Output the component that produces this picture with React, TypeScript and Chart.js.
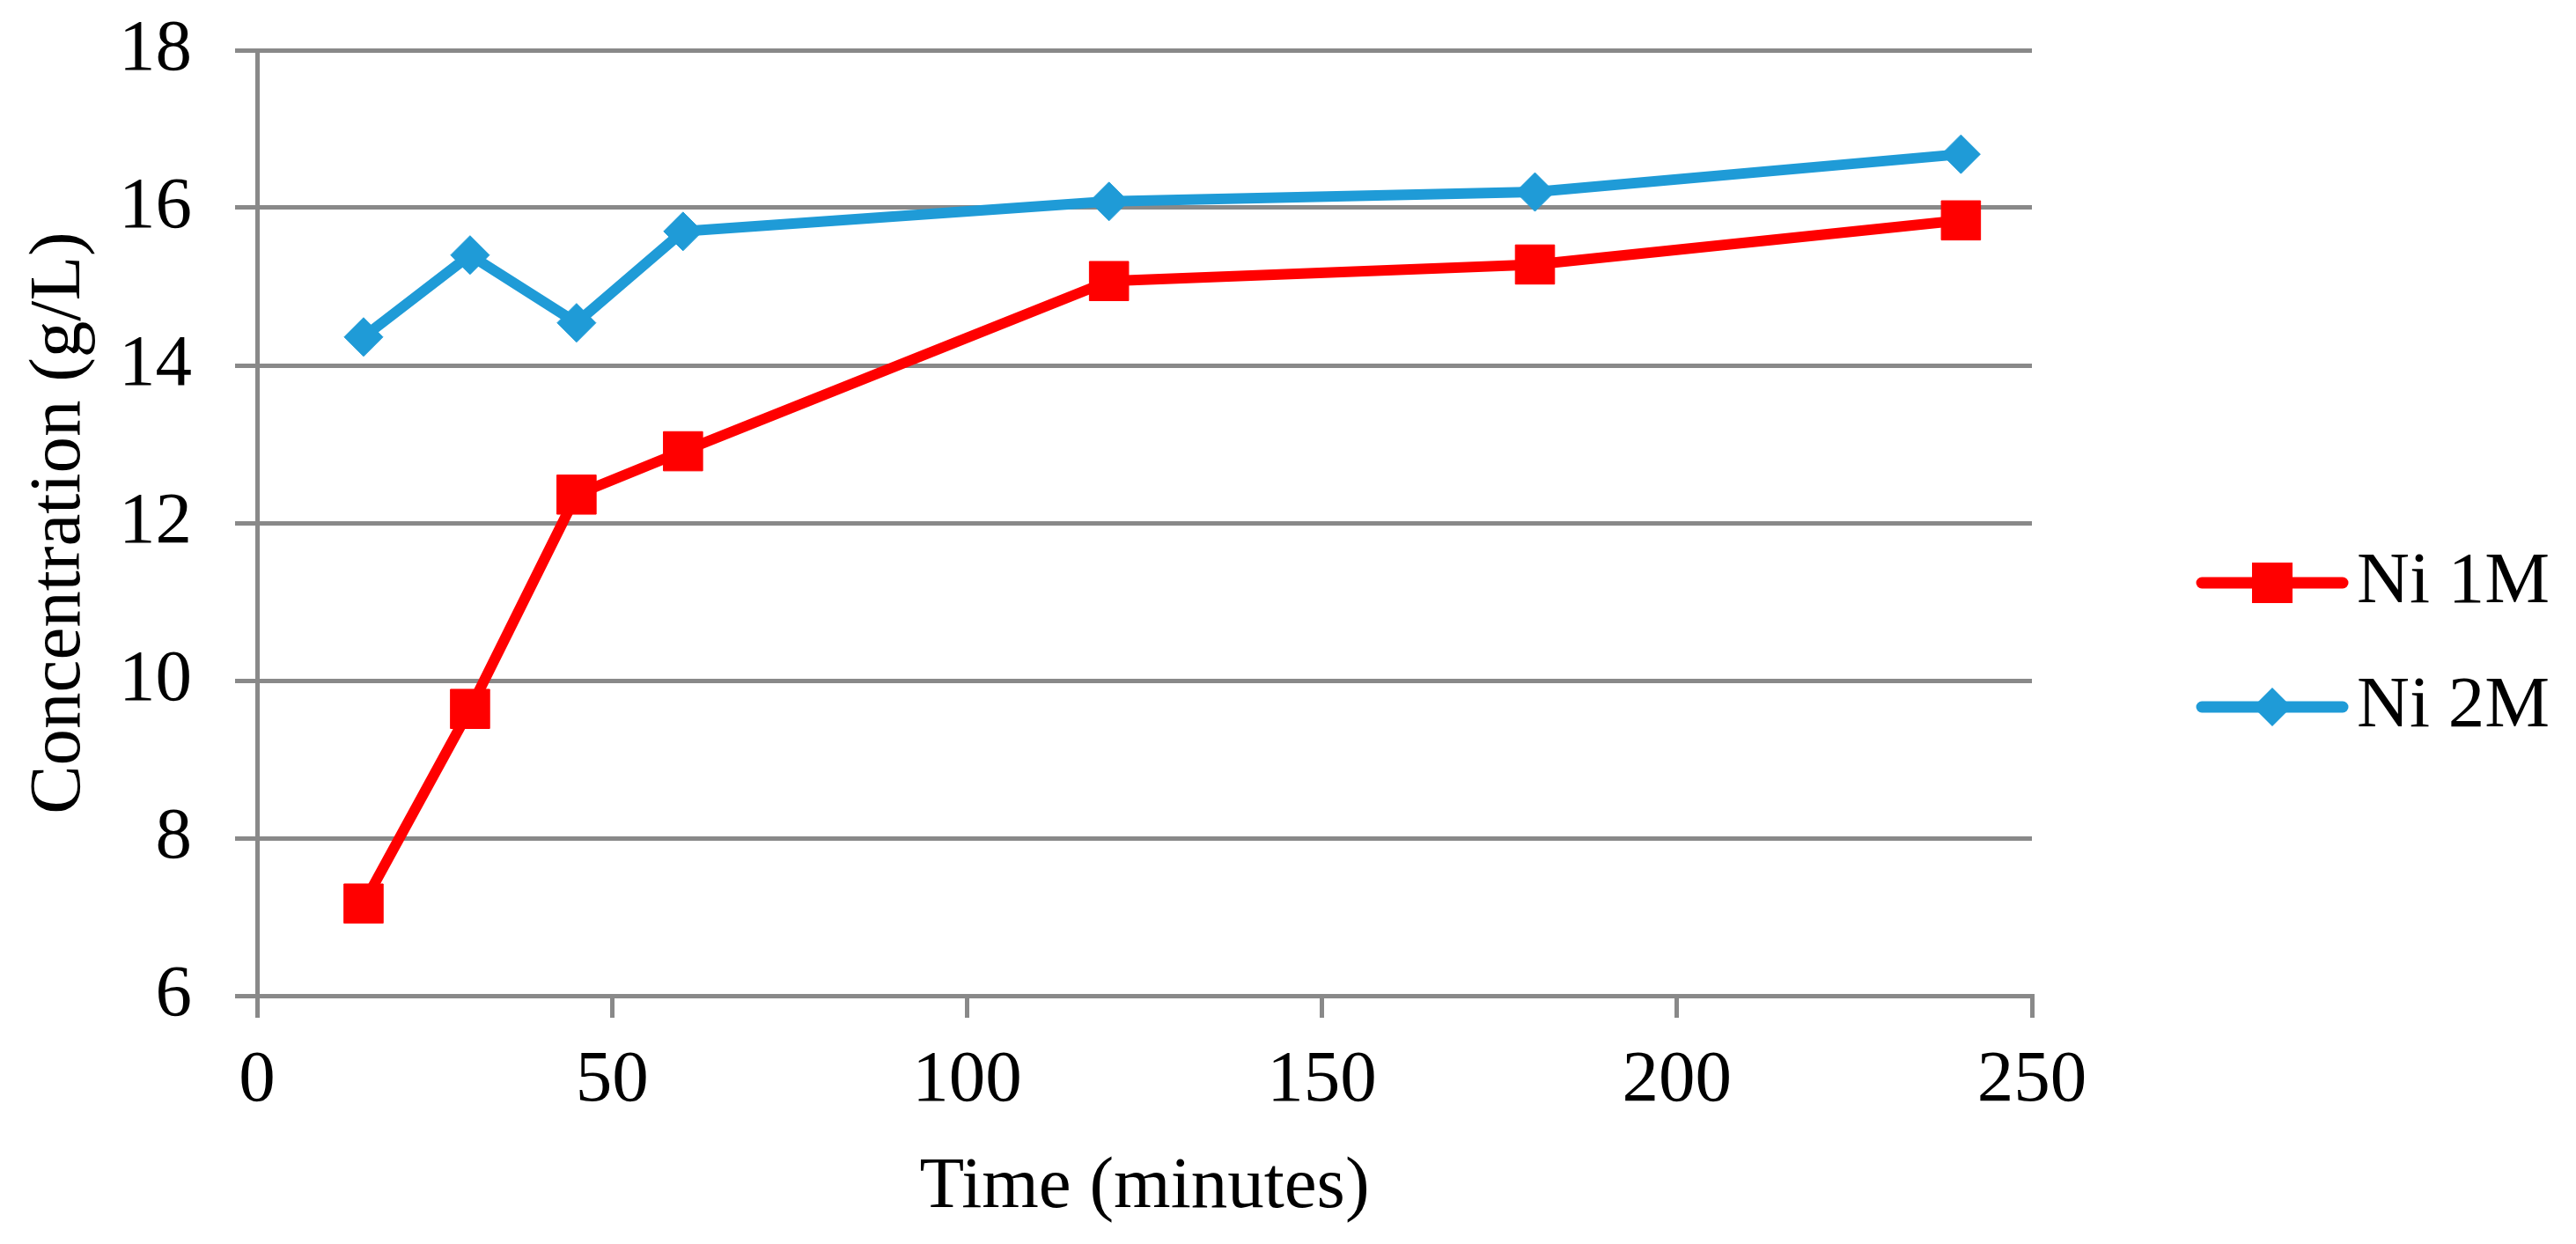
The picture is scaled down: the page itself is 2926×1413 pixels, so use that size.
import React, { useEffect, useRef } from 'react';
import { Chart, registerables } from 'chart.js';

Chart.register(...registerables);

// ---- data ----
const timeMinutes = [15, 30, 45, 60, 120, 180, 240];
const ni1M = [7.17, 9.64, 12.36, 12.91, 15.07, 15.28, 15.84];
const ni2M = [14.36, 15.4, 14.54, 15.7, 16.08, 16.2, 16.68];
const seriesLabels = ['Ni 1M', 'Ni 2M'];
const xAxisTitle = 'Time (minutes)';
const yAxisTitle = 'Concentration (g/L)';
const xRange = [0, 250];
const xStep = 50;
const yRange = [6, 18];
const yStep = 2;

// ---- styling / layout ----
const W = 2926;
const H = 1413;
const FONT = '"Liberation Serif", "Times New Roman", serif';
const FONT_SIZE = 83;
const GRID = '#898989';
const RED = '#FF0000';
const BLUE = '#1F9BD7';

const legendPlugin = {
  id: 'excelLegend',
  afterDraw(chart: any) {
    const ctx = chart.ctx as CanvasRenderingContext2D;
    const area = chart.chartArea;
    const lineStart = area.right + 193;
    const lineLen = 160;
    const rowTop = 662;
    const rowGap = 141;
    chart.data.datasets.forEach((ds: any, i: number) => {
      const y = rowTop + i * rowGap;
      ctx.save();
      ctx.strokeStyle = ds.borderColor;
      ctx.lineWidth = 13;
      ctx.lineCap = 'round';
      ctx.beginPath();
      ctx.moveTo(lineStart, y);
      ctx.lineTo(lineStart + lineLen, y);
      ctx.stroke();
      const cx = lineStart + lineLen / 2;
      ctx.fillStyle = ds.pointBackgroundColor;
      ctx.beginPath();
      if (ds.pointStyle === 'rect') {
        const s = 23;
        ctx.rect(cx - s, y - s, 2 * s, 2 * s);
      } else {
        const r = 22;
        ctx.moveTo(cx - r, y);
        ctx.lineTo(cx, y - r);
        ctx.lineTo(cx + r, y);
        ctx.lineTo(cx, y + r);
        ctx.closePath();
      }
      ctx.fill();
      ctx.fillStyle = '#000';
      ctx.font = `${FONT_SIZE}px ${FONT}`;
      ctx.textAlign = 'left';
      ctx.textBaseline = 'middle';
      ctx.fillText(ds.label, lineStart + lineLen + 16, y);
      ctx.restore();
    });
  },
};

export default function App() {
  const ref = useRef<HTMLCanvasElement>(null);

  useEffect(() => {
    const canvas = ref.current;
    if (!canvas) return;
    const chart = new Chart(canvas, {
      type: 'line',
      data: {
        datasets: [
          {
            label: seriesLabels[0],
            data: timeMinutes.map((t, i) => ({ x: t, y: ni1M[i] })),
            borderColor: RED,
            backgroundColor: RED,
            borderWidth: 12,
            pointStyle: 'rect',
            pointRadius: 31.5,
            pointBorderWidth: 1,
            pointBackgroundColor: RED,
            pointBorderColor: RED,
          },
          {
            label: seriesLabels[1],
            data: timeMinutes.map((t, i) => ({ x: t, y: ni2M[i] })),
            borderColor: BLUE,
            backgroundColor: BLUE,
            borderWidth: 12,
            pointStyle: 'rectRot',
            pointRadius: 22,
            pointBorderWidth: 1,
            pointBackgroundColor: BLUE,
            pointBorderColor: BLUE,
          },
        ],
      } as any,
      options: {
        responsive: false,
        animation: false,
        devicePixelRatio: 1,
        events: [],
        layout: { padding: { left: 0, top: 57, right: 618, bottom: 0 } },
        elements: {
          line: { tension: 0, borderCapStyle: 'round', borderJoinStyle: 'round' },
        },
        plugins: {
          legend: { display: false },
          tooltip: { enabled: false },
        },
        scales: {
          x: {
            type: 'linear',
            min: xRange[0],
            max: xRange[1],
            grid: {
              display: true,
              drawOnChartArea: false,
              drawTicks: true,
              tickLength: 25,
              color: GRID,
              lineWidth: 5,
            },
            border: { display: true, color: GRID, width: 5 },
            ticks: {
              stepSize: xStep,
              color: '#000',
              padding: 22,
              maxRotation: 0,
              font: { family: FONT, size: FONT_SIZE },
            },
            title: {
              display: true,
              text: xAxisTitle,
              color: '#000',
              font: { family: FONT, size: FONT_SIZE },
              padding: { top: 0, bottom: 14 },
            },
            afterFit: (scale: any) => {
              scale.height = 282;
              scale.paddingLeft = 0;
              scale.paddingRight = 0;
            },
          },
          y: {
            type: 'linear',
            min: yRange[0],
            max: yRange[1],
            grid: {
              display: true,
              drawTicks: true,
              tickLength: 25,
              color: GRID,
              lineWidth: 5,
            },
            border: { display: true, color: GRID, width: 5 },
            ticks: {
              stepSize: yStep,
              color: '#000',
              padding: 49,
              font: { family: FONT, size: FONT_SIZE },
            },
            title: {
              display: true,
              text: yAxisTitle,
              color: '#000',
              font: { family: FONT, size: FONT_SIZE },
              padding: { top: 18, bottom: 0 },
            },
            afterFit: (scale: any) => {
              scale.width = 292;
              scale.paddingTop = 0;
              scale.paddingBottom = 0;
            },
          },
        },
      } as any,
      plugins: [legendPlugin],
    });
    return () => chart.destroy();
  }, []);

  return (
    <div style={{ position: 'absolute', left: 0, top: 0, width: W, height: H, background: '#fff' }}>
      <canvas ref={ref} width={W} height={H} style={{ display: 'block', width: W, height: H }} />
    </div>
  );
}
